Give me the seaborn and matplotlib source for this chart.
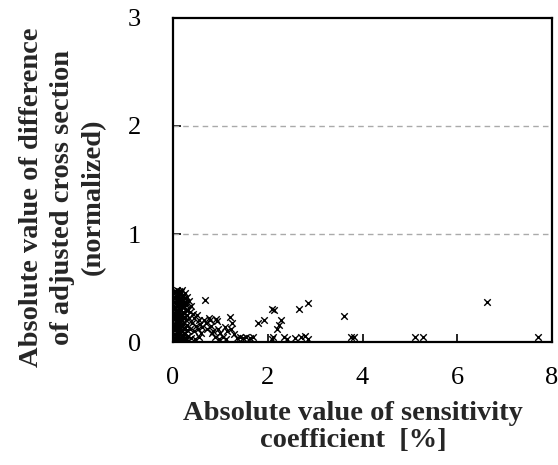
import matplotlib
matplotlib.use("Agg")
import matplotlib.pyplot as plt
import seaborn as sns
import pandas as pd

# Dense cluster near the origin
x_dense = [0.04, 0.06, 0.08, 0.10, 0.12, 0.14, 0.16, 0.19, 0.22, 0.25,
           0.03, 0.05, 0.07, 0.09, 0.11, 0.13, 0.15, 0.17, 0.20, 0.23, 0.26,
           0.04, 0.06, 0.08, 0.10, 0.12, 0.14, 0.18, 0.21, 0.24, 0.27,
           0.03, 0.05, 0.07, 0.09, 0.11, 0.13, 0.16, 0.19, 0.22, 0.28,
           0.04, 0.06, 0.08, 0.10, 0.12, 0.15, 0.17, 0.20, 0.23, 0.26, 0.29,
           0.03, 0.05, 0.07, 0.09, 0.11, 0.14, 0.16, 0.18, 0.21, 0.24, 0.27,
           0.04, 0.06, 0.08, 0.10, 0.13, 0.15, 0.17, 0.19, 0.22, 0.25, 0.30,
           0.03, 0.05, 0.07, 0.09, 0.12, 0.14, 0.16, 0.20, 0.23, 0.26, 0.29,
           0.04, 0.06, 0.08, 0.11, 0.13, 0.15, 0.18, 0.21, 0.24, 0.28, 0.32,
           0.03, 0.05, 0.07, 0.09, 0.12, 0.16, 0.19, 0.22, 0.25, 0.27, 0.31]
y_dense = [0.47, 0.46, 0.48, 0.45, 0.47, 0.44, 0.46, 0.48, 0.43, 0.45,
           0.42, 0.41, 0.43, 0.40, 0.42, 0.39, 0.41, 0.40, 0.38, 0.41, 0.37,
           0.37, 0.36, 0.35, 0.38, 0.34, 0.36, 0.35, 0.33, 0.36, 0.34,
           0.31, 0.32, 0.30, 0.33, 0.29, 0.31, 0.30, 0.32, 0.28, 0.30,
           0.27, 0.26, 0.28, 0.25, 0.27, 0.24, 0.26, 0.25, 0.27, 0.23, 0.25,
           0.22, 0.21, 0.23, 0.20, 0.22, 0.19, 0.21, 0.20, 0.22, 0.18, 0.20,
           0.17, 0.16, 0.18, 0.15, 0.17, 0.14, 0.16, 0.15, 0.17, 0.13, 0.16,
           0.12, 0.11, 0.13, 0.10, 0.12, 0.09, 0.11, 0.10, 0.12, 0.08, 0.11,
           0.07, 0.06, 0.08, 0.05, 0.07, 0.04, 0.06, 0.05, 0.07, 0.04, 0.06,
           0.02, 0.01, 0.03, 0.02, 0.01, 0.03, 0.02, 0.01, 0.03, 0.02, 0.01]

# Band spreading out from the cluster
x_band = [0.28, 0.30, 0.34, 0.32, 0.35, 0.38, 0.42, 0.45, 0.50, 0.55,
          0.33, 0.40, 0.48, 0.52, 0.58, 0.36, 0.44, 0.60, 0.31, 0.39,
          0.47, 0.55, 0.62, 0.65, 0.68, 0.70, 0.72, 0.75, 0.78, 0.80,
          0.82, 0.85, 0.88, 0.90, 0.92, 0.95, 1.00, 1.05, 1.10, 1.15,
          1.20, 1.25, 1.22, 1.28, 0.98, 1.12]
y_band = [0.36, 0.42, 0.38, 0.30, 0.28, 0.33, 0.26, 0.22, 0.25, 0.20,
          0.22, 0.18, 0.15, 0.12, 0.17, 0.12, 0.10, 0.08, 0.06, 0.04,
          0.03, 0.05, 0.14, 0.20, 0.39, 0.18, 0.12, 0.22, 0.20, 0.15,
          0.08, 0.10, 0.05, 0.21, 0.19, 0.12, 0.08, 0.05, 0.14, 0.10,
          0.23, 0.18, 0.12, 0.07, 0.03, 0.03]

# Sparse points at larger sensitivity
x_sparse = [1.35, 1.42, 1.48, 1.55, 1.62, 1.68, 2.08, 2.12, 2.35, 2.40,
            2.58, 2.70, 2.78, 2.85, 3.75, 3.82, 5.10, 5.28, 7.70,
            1.80, 1.92, 2.10, 2.13, 2.20, 2.24, 2.28, 2.65, 2.84, 3.60, 6.62]
y_sparse = [0.04, 0.05, 0.04, 0.05, 0.04, 0.05, 0.03, 0.05, 0.05, 0.03,
            0.04, 0.05, 0.06, 0.03, 0.05, 0.05, 0.05, 0.05, 0.05,
            0.18, 0.20, 0.31, 0.30, 0.12, 0.16, 0.20, 0.31, 0.36, 0.24, 0.37]

x_ticks = [0, 2, 4, 6, 8]
y_ticks = [0, 1, 2, 3]
x_label = "Absolute value of sensitivity\ncoefficient  [%]"
y_label = "Absolute value of difference\nof adjusted cross section\n(normalized)"

df = pd.DataFrame({
    "x": x_dense + x_band + x_sparse,
    "y": y_dense + y_band + y_sparse,
})

sns.set_theme(style="white")
plt.rcParams["font.family"] = ["Liberation Serif", "DejaVu Serif"]

fig = plt.figure(figsize=(5.58, 4.65), dpi=100)
ax = fig.add_axes([173 / 558, 1 - 342 / 465, 379 / 558, 324 / 465])

sns.scatterplot(data=df, x="x", y="y", ax=ax, marker="x", color="black",
                s=22, linewidth=1.0, legend=False, zorder=3)

ax.set_xlim(0, 8)
ax.set_ylim(0, 3)
ax.set_xticks(x_ticks)
ax.set_yticks(y_ticks)
ax.set_xticklabels([str(t) for t in x_ticks])
ax.set_yticklabels([str(t) for t in y_ticks])
ax.tick_params(axis="both", direction="in", length=6, width=1.2, colors="black",
               labelsize=19, labelcolor="black")
ax.tick_params(axis="x", pad=18, bottom=True)
ax.tick_params(axis="y", pad=23, left=True)

for yv in [1, 2]:
    ax.axhline(yv, color="#aaaaaa", linestyle=(0, (4, 3)), linewidth=1.0, zorder=1)

for sp in ax.spines.values():
    sp.set_color("black")
    sp.set_linewidth(1.6)

ax.set_xlabel(x_label, fontsize=20.5, fontweight="bold", linespacing=1.1,
              multialignment="center")
ax.set_ylabel(y_label, fontsize=20.5, fontweight="bold", linespacing=1.3,
              multialignment="center")
ax.xaxis.label.set_va("center")
ax.yaxis.label.set_va("center")
ax.xaxis.set_label_coords(0.475, -0.262)
ax.yaxis.set_label_coords(-0.292, 0.447)

fig.savefig("out.png", dpi=100)
